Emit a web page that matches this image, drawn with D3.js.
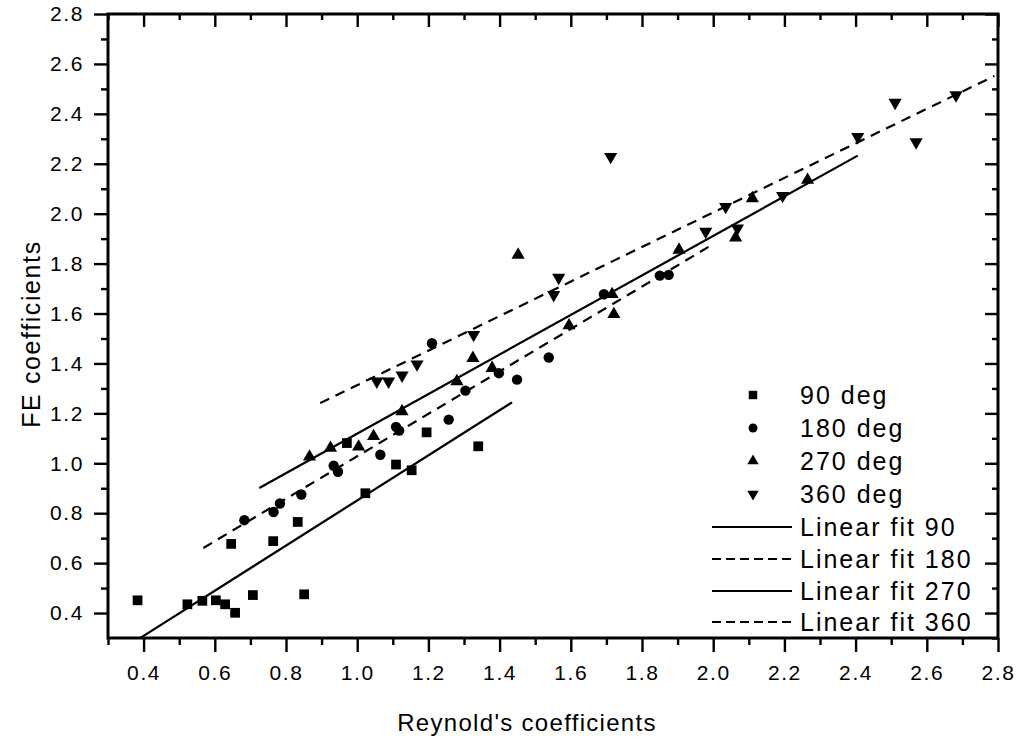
<!DOCTYPE html>
<html>
<head>
<meta charset="utf-8">
<script src="https://cdn.jsdelivr.net/npm/d3@7"></script>
<style>
  html, body { margin: 0; padding: 0; background: #fff; }
  svg { display: block; }
  text { font-family: "Liberation Sans", Arial, sans-serif; fill: #000; }
</style>
</head>
<body>
<svg id="chart" width="1020" height="741"></svg>
<script>
// Measured points: [Reynold's coefficient, FE coefficient]
const deg90 = [
  [0.383, 0.451], [0.523, 0.435], [0.565, 0.449], [0.603, 0.451], [0.629, 0.435],
  [0.657, 0.401], [0.707, 0.472], [0.851, 0.475], [0.646, 0.677], [0.764, 0.688],
  [0.833, 0.765], [1.023, 0.880], [0.971, 1.081], [1.109, 0.995], [1.153, 0.972],
  [1.195, 1.124], [1.340, 1.068]
];
const deg180 = [
  [0.683, 0.772], [0.765, 0.805], [0.783, 0.839], [0.843, 0.875], [0.934, 0.990],
  [0.946, 0.966], [1.065, 1.034], [1.109, 1.146], [1.118, 1.131], [1.257, 1.175],
  [1.304, 1.291], [1.398, 1.361], [1.449, 1.335], [1.538, 1.424], [1.210, 1.481],
  [1.693, 1.677], [1.850, 1.752], [1.875, 1.755]
];
const deg270 = [
  [0.866, 1.026], [0.925, 1.061], [1.004, 1.066], [1.046, 1.108], [1.126, 1.208],
  [1.280, 1.328], [1.325, 1.421], [1.379, 1.381], [1.452, 1.835], [1.595, 1.552],
  [1.716, 1.677], [1.721, 1.597], [1.904, 1.855], [2.063, 1.904], [2.110, 2.061],
  [2.265, 2.135]
];
const deg360 = [
  [1.055, 1.328], [1.088, 1.328], [1.126, 1.352], [1.168, 1.397], [1.327, 1.515],
  [1.552, 1.675], [1.566, 1.744], [1.712, 2.228], [1.979, 1.928], [2.068, 1.941],
  [2.035, 2.028], [2.195, 2.072], [2.406, 2.308], [2.511, 2.445], [2.570, 2.287],
  [2.682, 2.475]
];

// Linear fits: slope, intercept and the x span each fit is drawn over
const fitNames = ["Linear fit 90", "Linear fit 180", "Linear fit 270", "Linear fit 360"];
const fitSlopes = [0.904, 0.850, 0.792, 0.692];
const fitIntercepts = [-0.053, 0.178, 0.327, 0.621];
const fitStarts = [0.390, 0.568, 0.725, 0.896];
const fitEnds = [1.435, 1.988, 2.406, 2.790];
const fitDashed = [false, true, false, true];

const seriesNames = ["90 deg", "180 deg", "270 deg", "360 deg"];
const seriesSymbols = [d3.symbolSquare, d3.symbolCircle, d3.symbolTriangle, d3.symbolTriangle];

// Axis ticks
const majorTicks = [0.4, 0.6, 0.8, 1.0, 1.2, 1.4, 1.6, 1.8, 2.0, 2.2, 2.4, 2.6, 2.8];
const minorTicks = [0.3, 0.5, 0.7, 0.9, 1.1, 1.3, 1.5, 1.7, 1.9, 2.1, 2.3, 2.5, 2.7];
const xTitle = "Reynold's coefficients";
const yTitle = "FE coefficients";

const svg = d3.select("#chart");
const box = { left: 108, right: 998, top: 14, bottom: 638 };

const x = d3.scaleLinear().domain([0.3, 2.8]).range([box.left, box.right]);
const y = d3.scaleLinear().domain([0.3, 2.8]).range([box.bottom, box.top]);
const fmt = d3.format(".1f");

function styleAxis(g) {
  g.select(".domain").remove();
  g.selectAll("line").attr("stroke", "#000").attr("stroke-width", 2.4);
  g.selectAll("text")
    .style("font-size", "21px")
    .style("letter-spacing", "1.6px");
}

// Bottom axis: labelled major ticks, short minor ticks, outward
svg.append("g").attr("transform", `translate(0,${box.bottom})`)
  .call(d3.axisBottom(x).tickValues(majorTicks).tickFormat(fmt).tickSize(14).tickPadding(13))
  .call(styleAxis);
svg.append("g").attr("transform", `translate(0,${box.bottom})`)
  .call(d3.axisBottom(x).tickValues(minorTicks).tickFormat("").tickSize(7))
  .call(styleAxis);

// Left axis
svg.append("g").attr("transform", `translate(${box.left},0)`)
  .call(d3.axisLeft(y).tickValues(majorTicks).tickFormat(fmt).tickSize(14).tickPadding(10))
  .call(styleAxis);
svg.append("g").attr("transform", `translate(${box.left},0)`)
  .call(d3.axisLeft(y).tickValues(minorTicks.slice(1)).tickFormat("").tickSize(7))
  .call(styleAxis);

// Top and right axes: inward ticks, no labels
svg.append("g").attr("transform", `translate(0,${box.top})`)
  .call(d3.axisTop(x).tickValues(majorTicks).tickFormat("").tickSize(-13))
  .call(styleAxis);
svg.append("g").attr("transform", `translate(0,${box.top})`)
  .call(d3.axisTop(x).tickValues(minorTicks).tickFormat("").tickSize(-6))
  .call(styleAxis);
svg.append("g").attr("transform", `translate(${box.right},0)`)
  .call(d3.axisRight(y).tickValues(majorTicks).tickFormat("").tickSize(-13))
  .call(styleAxis);
svg.append("g").attr("transform", `translate(${box.right},0)`)
  .call(d3.axisRight(y).tickValues(minorTicks).tickFormat("").tickSize(-6))
  .call(styleAxis);

// Frame
svg.append("rect")
  .attr("x", box.left).attr("y", box.top)
  .attr("width", box.right - box.left).attr("height", box.bottom - box.top)
  .attr("fill", "none").attr("stroke", "#000").attr("stroke-width", 3);

// Fit lines
const line = d3.line().x(d => x(d[0])).y(d => y(d[1]));
fitSlopes.forEach((m, i) => {
  const pts = [fitStarts[i], fitEnds[i]].map(v => [v, m * v + fitIntercepts[i]]);
  svg.append("path")
    .attr("d", line(pts))
    .attr("fill", "none")
    .attr("stroke", "#000")
    .attr("stroke-width", 2.2)
    .attr("stroke-dasharray", fitDashed[i] ? "10,7" : null);
});

// Markers
const symbolSizes = [95, 85, 75, 75];
const allSeries = [deg90, deg180, deg270, deg360];
allSeries.forEach((data, i) => {
  const sym = d3.symbol().type(seriesSymbols[i]).size(symbolSizes[i]);
  svg.append("g").selectAll("path").data(data).join("path")
    .attr("d", sym)
    .attr("transform", d => `translate(${x(d[0])},${y(d[1])})${i === 3 ? " rotate(180)" : ""}`)
    .attr("fill", "#000");
});

// Legend
const legend = svg.append("g");
const legendRowY = [395, 428, 461, 494, 527, 559, 591, 622];
const legendTextX = 800;
seriesNames.forEach((name, i) => {
  const sym = d3.symbol().type(seriesSymbols[i]).size(symbolSizes[i] * 0.75);
  legend.append("path")
    .attr("d", sym)
    .attr("transform", `translate(753,${legendRowY[i]})${i === 3 ? " rotate(180)" : ""}`)
    .attr("fill", "#000");
  legend.append("text")
    .attr("x", legendTextX).attr("y", legendRowY[i])
    .attr("dy", "0.36em")
    .style("font-size", "25px")
    .style("letter-spacing", "2px")
    .text(name);
});
fitNames.forEach((name, i) => {
  const ry = legendRowY[4 + i];
  legend.append("line")
    .attr("x1", 712).attr("x2", 792).attr("y1", ry).attr("y2", ry)
    .attr("stroke", "#000").attr("stroke-width", 2)
    .attr("stroke-dasharray", fitDashed[i] ? "9,5" : null);
  legend.append("text")
    .attr("x", legendTextX).attr("y", ry)
    .attr("dy", "0.36em")
    .style("font-size", "25px")
    .style("letter-spacing", "2px")
    .text(name);
});

// Axis titles
svg.append("text")
  .attr("x", 527).attr("y", 722)
  .attr("text-anchor", "middle").attr("dy", "0.36em")
  .style("font-size", "24px").style("letter-spacing", "1.3px")
  .text(xTitle);
svg.append("text")
  .attr("transform", "translate(31,334) rotate(-90)")
  .attr("text-anchor", "middle").attr("dy", "0.36em")
  .style("font-size", "25px").style("letter-spacing", "1.6px")
  .text(yTitle);
</script>
</body>
</html>
